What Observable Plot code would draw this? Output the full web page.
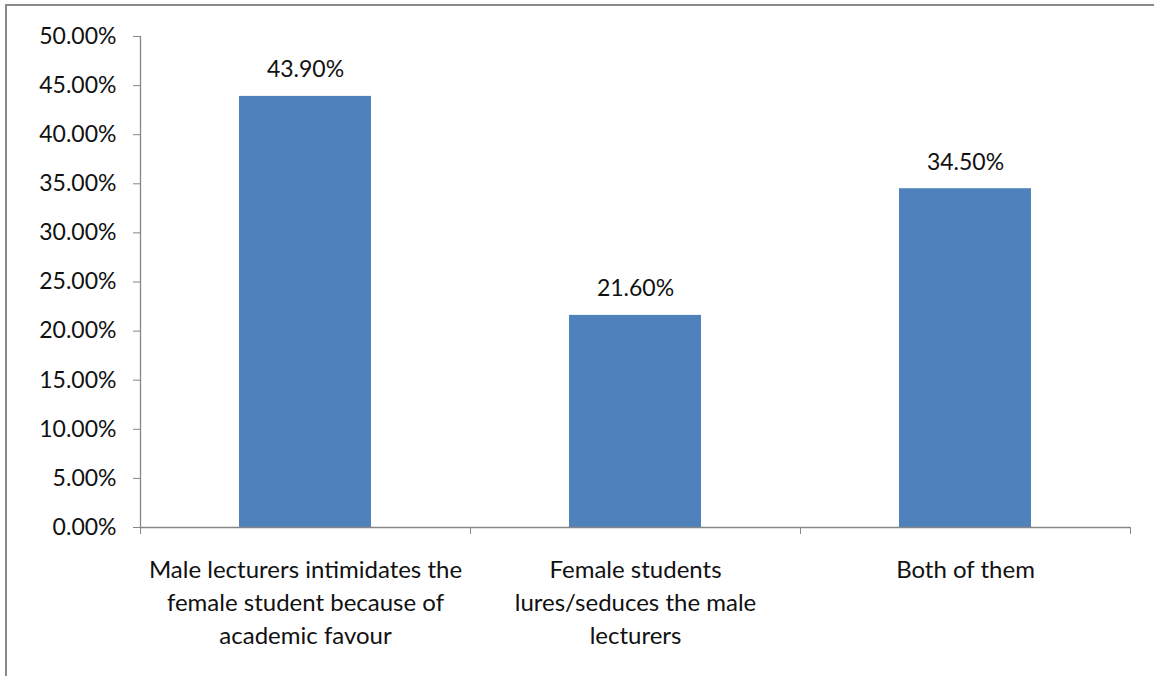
<!DOCTYPE html>
<html>
<head>
<meta charset="utf-8">
<script src="https://cdn.jsdelivr.net/npm/d3@7"></script>
<script src="https://cdn.jsdelivr.net/npm/@observablehq/plot@0.6"></script>
<style>
  html, body { margin: 0; padding: 0; background: #fff; }
  #wrap { position: relative; width: 1154px; height: 676px; overflow: hidden; }
  #frame { position: absolute; left: 5px; top: 4px; width: 1200px; height: 720px;
           border-left: 2px solid #8a8a8a; border-top: 2px solid #8a8a8a; }
  #chart { position: absolute; left: 0; top: 0; }
</style>
</head>
<body>
<div id="wrap"><div id="frame"></div><div id="chart"></div></div>
<script>
const categories = [
  "Male lecturers intimidates the\nfemale student because of\nacademic favour",
  "Female students\nlures/seduces the male\nlecturers",
  "Both of them"
];
const values = [0.439, 0.216, 0.345];
const yTicks = [0, 0.05, 0.10, 0.15, 0.20, 0.25, 0.30, 0.35, 0.40, 0.45, 0.50];
const xBoundaries = [0, 1, 2, 3];

const data = categories.map((c, i) => ({i, category: c, value: values[i]}));
const pct = d3.format(".2%");
const font = "Lato, 'Open Sans', sans-serif";
const axisGray = "#868686";
const ink = "#111";

const chart = Plot.plot({
  width: 1154,
  height: 676,
  marginLeft: 140,
  marginRight: 24,
  marginTop: 36,
  marginBottom: 149,
  style: {fontFamily: font, color: ink, background: "transparent"},
  x: {domain: [0, 3], axis: null},
  y: {domain: [0, 0.5], axis: null},
  marks: [
    Plot.rectY(data, {x1: d => d.i + 0.3, x2: d => d.i + 0.7, y: "value", fill: "#4F81BD"}),
    Plot.ruleY([0], {stroke: axisGray, strokeWidth: 1.3}),
    Plot.ruleX([0], {y1: 0, y2: 0.5, stroke: axisGray, strokeWidth: 1.3}),
    Plot.axisY({ticks: yTicks, tickFormat: pct, tickSize: 7, tickPadding: 17, label: null,
                stroke: axisGray, fill: ink, fontSize: 23}),
    Plot.axisX({ticks: xBoundaries, tickFormat: () => "", tickSize: 7, label: null, stroke: axisGray}),
    Plot.text(data, {x: d => d.i + 0.5, y: "value", text: d => pct(d.value),
                     dy: -19, lineAnchor: "bottom", fontSize: 23, fill: ink}),
    Plot.text(data, {x: d => d.i + 0.5, y: () => 0, text: "category",
                     dy: 27, lineAnchor: "top", fontSize: 24, lineHeight: 33 / 24, fill: ink})
  ]
});
document.getElementById("chart").appendChild(chart);
</script>
</body>
</html>
